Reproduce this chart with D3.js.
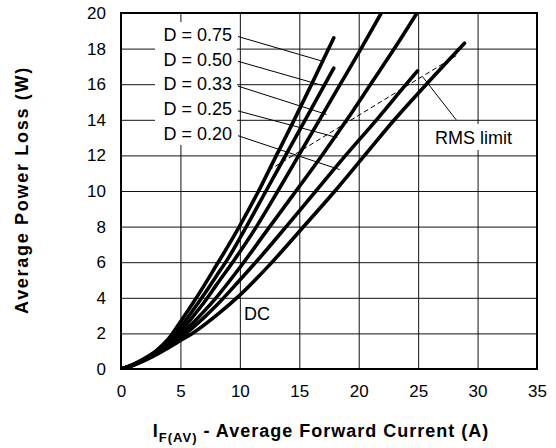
<!DOCTYPE html>
<html>
<head>
<meta charset="utf-8">
<script src="https://cdn.jsdelivr.net/npm/d3@7"></script>
<style>
  body { margin: 0; background: #fff; }
  text { font-family: "Liberation Sans", Arial, Helvetica, sans-serif; fill: #000; }
</style>
</head>
<body>
<script>
const xTicks = [0, 5, 10, 15, 20, 25, 30, 35];
const yTicks = [0, 2, 4, 6, 8, 10, 12, 14, 16, 18, 20];

// [current (A), power (W)]
const d075 = [[0,0],[1,0.25],[2,0.6],[3,1.05],[4,1.7],[5,2.65],[6,3.65],[7,4.7],[8,5.8],[9,6.9],[10,8.05],[11.5,9.9],[13,11.9],[14.5,13.9],[16,15.95],[17.9,18.6]];
const d050 = [[0,0],[1,0.24],[2,0.58],[3,1.0],[4,1.55],[5,2.35],[6,3.25],[7,4.2],[8,5.2],[9,6.2],[10.55,8],[12.2,10],[13.85,12],[15.5,14],[17.9,16.9]];
const d033 = [[0,0],[1,0.23],[2,0.55],[3,0.95],[4,1.45],[5,2.1],[6,2.9],[7,3.75],[8,4.7],[9.5,6.1],[11.4,8],[13.2,10],[14.95,12],[16.7,14],[18.45,16],[20.2,18],[21.9,20]];
const d025 = [[0,0],[1,0.22],[2,0.52],[3,0.9],[4,1.35],[5,1.9],[6,2.55],[7,3.25],[8,4.0],[10,5.7],[12.3,7.8],[14.5,9.8],[16.8,11.9],[19,14],[21,16],[23,18],[24.9,20]];
const d020 = [[0,0],[1,0.21],[2,0.5],[3,0.85],[4,1.25],[5,1.75],[6,2.3],[7,2.9],[8,3.55],[10,5.0],[12,6.5],[13.9,8],[16.4,10],[18.9,12],[21.5,14],[24,16],[24.95,16.75]];
const dc   = [[0,0],[1,0.2],[2,0.48],[3,0.82],[4,1.2],[5,1.6],[6,2.0],[8,3.0],[10,4.15],[12.5,5.85],[15.3,7.95],[18,10],[20.5,12],[23,14],[25.7,16],[28.9,18.3]];

const curves = [d075, d050, d033, d025, d020, dc];
const dutyLabels = ["D = 0.75", "D = 0.50", "D = 0.33", "D = 0.25", "D = 0.20"];
// where each leader line touches its curve
const leaderEnds = [[16.9,17.3],[17.1,15.9],[17.3,14.3],[18.2,13.0],[18.4,11.2]];
const rmsLimit = [[12.4,11.15],[28.2,17.6]];
const rmsLeader = [[25.4,16.4],[28.2,14.0]];

const W = 556, H = 448;
const margin = {top: 13, right: 19, bottom: 79, left: 121};
const w = W - margin.left - margin.right;
const h = H - margin.top - margin.bottom;

const svg = d3.select("body").append("svg")
  .attr("width", W).attr("height", H);

const x = d3.scaleLinear().domain([0, 35]).range([margin.left, margin.left + w]);
const y = d3.scaleLinear().domain([0, 20]).range([margin.top + h, margin.top]);

// grid + tick labels
const xAxis = svg.append("g")
  .attr("transform", `translate(0,${margin.top + h})`)
  .call(d3.axisBottom(x).tickValues(xTicks).tickSize(-h).tickPadding(16));
const yAxis = svg.append("g")
  .attr("transform", `translate(${margin.left},0)`)
  .call(d3.axisLeft(y).tickValues(yTicks).tickSize(-w).tickPadding(15));

[xAxis, yAxis].forEach(g => {
  g.select(".domain").remove();
  g.selectAll(".tick line").attr("stroke", "#111").attr("stroke-width", 1);
  g.selectAll(".tick text").style("font-size", "17px");
});

// white boxes behind the labels
svg.append("rect")
  .attr("x", 155).attr("y", 22).attr("width", 82).attr("height", 123)
  .attr("fill", "#fff");
svg.append("rect")
  .attr("x", 432).attr("y", 124).attr("width", 84).attr("height", 26)
  .attr("fill", "#fff");

svg.append("clipPath").attr("id", "plot")
  .append("rect")
  .attr("x", margin.left).attr("y", margin.top)
  .attr("width", w).attr("height", h);

const line = d3.line()
  .x(d => x(d[0]))
  .y(d => y(d[1]))
  .curve(d3.curveMonotoneX);

// RMS limit dashed line
svg.append("path")
  .attr("d", d3.line().x(d => x(d[0])).y(d => y(d[1]))(rmsLimit))
  .attr("fill", "none").attr("stroke", "#000")
  .attr("stroke-width", 1).attr("stroke-dasharray", "5,3");

// leader lines
const labelX = 232;
const labelY0 = 34.5, labelStep = 24.8;
svg.append("g").selectAll("line")
  .data(leaderEnds).enter()
  .append("line")
  .attr("x1", 238)
  .attr("y1", (d, i) => labelY0 + i * labelStep + 2)
  .attr("x2", d => x(d[0]))
  .attr("y2", d => y(d[1]))
  .attr("stroke", "#000").attr("stroke-width", 1);

svg.append("line")
  .attr("x1", x(rmsLeader[0][0])).attr("y1", y(rmsLeader[0][1]))
  .attr("x2", x(rmsLeader[1][0])).attr("y2", y(rmsLeader[1][1]))
  .attr("stroke", "#000").attr("stroke-width", 1);

// curves
svg.append("g").attr("clip-path", "url(#plot)")
  .selectAll("path")
  .data(curves).enter()
  .append("path")
  .attr("d", line)
  .attr("fill", "none")
  .attr("stroke", "#000")
  .attr("stroke-width", 3.6)
  .attr("stroke-linecap", "round");

// plot border
svg.append("rect")
  .attr("x", margin.left).attr("y", margin.top)
  .attr("width", w).attr("height", h)
  .attr("fill", "none").attr("stroke", "#000").attr("stroke-width", 2);

// duty labels
svg.append("g").selectAll("text")
  .data(dutyLabels).enter()
  .append("text")
  .attr("x", labelX)
  .attr("y", (d, i) => labelY0 + i * labelStep)
  .attr("dy", "0.35em")
  .attr("text-anchor", "end")
  .style("font-size", "18px")
  .text(d => d);

svg.append("text")
  .attr("x", 435).attr("y", 143.5)
  .style("font-size", "18px")
  .text("RMS limit");

svg.append("text")
  .attr("x", 244).attr("y", 320)
  .style("font-size", "18px")
  .text("DC");

// axis titles
svg.append("text")
  .attr("transform", "translate(28,190) rotate(-90)")
  .attr("text-anchor", "middle")
  .style("font-size", "18px").style("font-weight", "bold")
  .style("letter-spacing", "1.7px")
  .text("Average Power Loss (W)");

const xt = svg.append("text")
  .attr("x", 321).attr("y", 436.5)
  .attr("text-anchor", "middle")
  .style("font-size", "18px").style("font-weight", "bold")
  .style("letter-spacing", "1px");
xt.append("tspan").text("I");
xt.append("tspan").attr("dy", 5).style("font-size", "13px").text("F(AV)");
xt.append("tspan").attr("dy", -5).text(" - Average Forward Current (A)");
</script>
</body>
</html>
